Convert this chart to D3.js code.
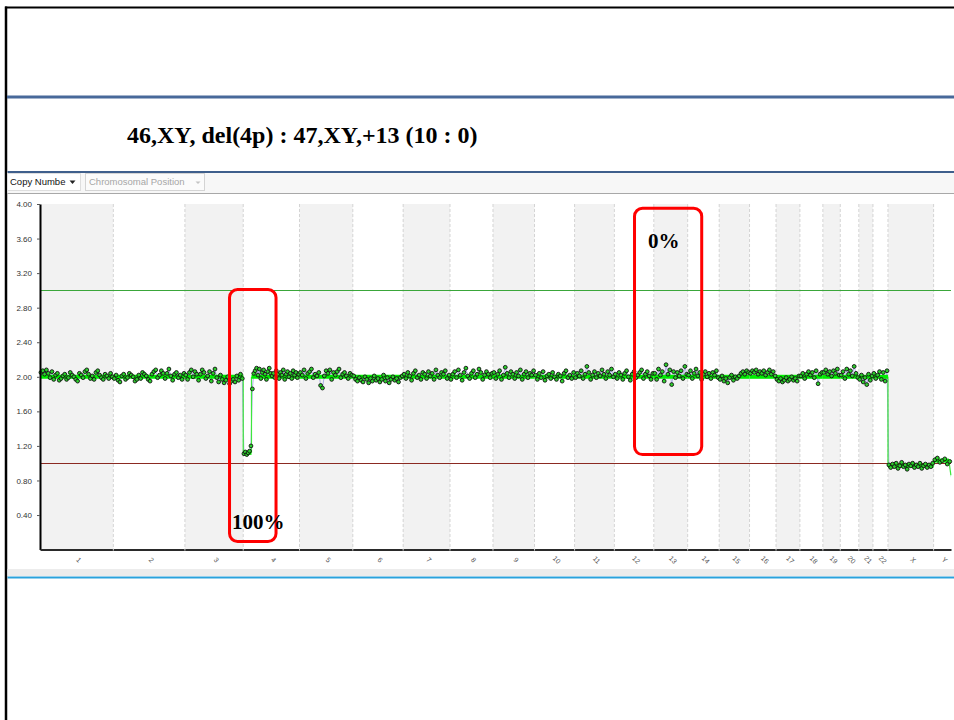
<!DOCTYPE html>
<html>
<head>
<meta charset="utf-8">
<script src="https://cdn.jsdelivr.net/npm/d3@7"></script>
<style>
  html, body { margin: 0; padding: 0; background: #ffffff; }
  svg { display: block; }
</style>
</head>
<body>
<svg id="chart" width="954" height="720"></svg>
<script>
// ---- data ---------------------------------------------------------------
const chromNames = ['1','2','3','4','5','6','7','8','9','10','11','12','13','14',
  '15','16','17','18','19','20','21','22','X','Y'];
const chromLengthsMb = [249,243,198,191,181,171,159,146,141,136,135,134,115,107,
  103,90,81,78,59,63,48,51,155,59];
const yTickValues = [0.4,0.8,1.2,1.6,2.0,2.4,2.8,3.2,3.6,4.0];

// probe copy-number values, evenly spread along each chromosome
const probeValues = [
  [2.05,2.07,2.03,2.08,2.04,1.99,2.06,1.97,2.02,2.04,1.96,1.98,2.01,2.03,1.97,1.99,2.05,2.02,2.00,1.97,1.95,2.04,2.02,1.99,2.06,2.08,2.03,1.98,2.01,1.97,2.05,2.07,2.02,1.99,1.97,2.03,2.01,1.98,2.04,2.00],
  [1.98,2.02,1.96,1.94,2.01,2.03,1.97,1.99,2.04,2.02,2.00,1.95,1.97,2.02,1.98,2.05,2.03,2.01,1.97,1.95,2.03,2.06,2.08,1.99,2.02,2.07,2.04,1.98,2.04,2.09,2.01,1.96,2.03,2.05,1.99,2.02,1.97,2.04],
  [2.02,1.97,2.05,2.08,2.00,2.06,2.03,1.96,2.03,2.08,2.05,1.98,2.01,2.06,1.95,2.04,2.09,1.99,1.94,2.02,1.97,1.93,1.96,2.00,1.92,1.95,1.97,1.94,2.01,1.96,2.03,1.98],
  [1.11,1.13,1.10,1.12,1.14,1.20,1.86,2.04,2.07,2.10,2.02,2.09,1.98,2.05,2.08,2.03,1.97,2.06,2.10,2.04,2.01,2.04,1.99,2.07,2.03,1.98,2.05,2.02,2.08,1.97,2.03,2.06,2.00,2.04,1.98,2.07,2.02,2.05,1.99,2.03],
  [2.05,2.02,2.08,1.98,2.04,2.06,2.09,1.99,2.03,2.01,2.05,1.90,1.87,2.01,2.07,2.04,2.08,1.97,2.05,2.02,2.06,2.09,1.99,2.03,2.05,2.01,1.98,2.04,2.02],
  [2.01,1.97,1.95,1.99,1.96,1.94,2.00,1.97,1.93,1.98,1.95,2.01,1.96,1.98,1.94,1.97,2.02,1.95,1.99,1.93,1.97,2.00,1.96,1.98,1.94,1.99,2.01],
  [2.03,1.98,2.05,2.01,1.96,2.04,2.07,1.99,2.02,1.97,2.05,2.03,1.98,2.06,2.01,2.04,1.97,2.08,2.02,1.99,2.05,2.03,2.07,1.98,2.02],
  [1.97,2.03,2.06,1.99,2.08,2.02,1.96,2.05,2.10,2.01,1.98,2.04,2.07,1.99,2.03,2.09,2.05,1.97,2.02,2.06,2.03,1.99,2.04],
  [2.05,1.98,2.03,2.07,1.97,2.02,2.11,2.04,1.99,2.06,2.03,1.98,2.05,2.01,2.08,1.97,2.03,2.06,1.99,2.04,2.02,2.07],
  [2.02,1.97,2.04,1.99,2.06,1.96,2.01,2.03,1.98,2.05,2.00,1.97,2.03,2.01,1.95,2.04,2.07,1.99,2.02,1.98,2.05],
  [1.99,2.04,2.01,2.07,1.98,2.03,2.12,2.05,1.97,2.02,2.06,1.99,2.04,2.01,2.08,2.03,1.98,2.06,2.02,2.09,2.00],
  [2.03,1.98,2.05,2.02,1.97,2.04,2.07,2.00,1.96,2.03,2.06,1.99,2.02,2.05,2.08,1.98,2.03,2.06,2.01,1.97,2.04],
  [2.04,1.97,2.09,2.02,2.06,1.95,2.14,2.03,2.08,1.91,2.06,1.99,2.05,2.01,2.07,1.98,2.12,2.03],
  [2.02,2.07,1.98,2.04,2.09,2.01,2.05,1.97,2.03,2.06,2.00,2.04,1.98,2.05,2.02,2.07,1.99],
  [1.97,2.01,1.95,1.98,1.93,1.99,2.02,1.96,2.00,1.98,2.01,2.04,2.06,2.03,2.07,2.05],
  [2.04,2.07,2.05,2.08,2.03,2.06,2.04,2.07,2.02,2.05,2.08,2.03,2.06,2.01],
  [1.97,1.95,1.98,1.94,1.96,1.99,1.95,1.97,2.00,1.96,1.98,1.95,2.01],
  [2.01,2.04,1.98,2.03,2.06,2.02,2.05,1.99,2.07,1.92,2.03,2.05],
  [2.05,2.08,2.03,2.06,2.01,2.07,2.04,2.09,2.02],
  [2.02,2.06,1.98,2.09,2.03,2.07,2.01,2.12,2.04,1.99],
  [1.97,2.02,1.94,1.99,1.91,2.03,1.96,2.01],
  [2.04,1.98,2.02,2.06,1.97,2.05,1.95,2.07],
  [0.98,0.95,0.99,0.96,1.00,0.94,0.97,1.01,0.96,0.98,0.93,0.99,0.97,1.00,0.95,0.98,0.96,1.00,0.94,0.97,0.99,0.95,0.98,0.96,1.00],
  [1.04,1.06,1.01,1.03,1.05,0.99,1.02]
];

// copy-number segments
const segChrom = ['1','2','3','4','4','5','6','7','8','9','10','11','12','13','14',
  '15','16','17','18','19','20','21','22','X','Y','Y'];
const segStartMb = [0,0,0,0,28,0,0,0,0,0,0,0,0,0,0,0,0,0,0,0,0,0,0,0,0,58.6];
const segEndMb = [249,243,198,28,191,181,171,159,146,141,136,135,134,115,107,
  103,90,81,78,59,63,48,51,155,52,59];
const segCopyNumber = [2,2,2,1.12,2,2,2,2,2,2,2,2,2,2,2,2,2,2,2,2,2,2,2,0.97,1.03,0.86];

// reference copy-number levels
const refLevels = [3.0, 1.0];
const refColors = ['#3aa63a', '#8b2a22'];

// highlighted regions with their mosaic percentage
const boxChrom = ['4', '13'];
const boxLabels = ['100%', '0%'];

// ---- layout -------------------------------------------------------------
const svg = d3.select('#chart');
const plotLeft = 40, plotRight = 951, plotTop = 204, plotBottom = 549.6;

const chromOffset = [];
chromLengthsMb.reduce((acc, len, i) => { chromOffset[i] = acc; return acc + len; }, 0);
const genomeLen = d3.sum(chromLengthsMb);
const chromIndex = name => chromNames.indexOf(name);

const x = d3.scaleLinear().domain([0, genomeLen]).range([plotLeft, plotRight]);
const y = d3.scaleLinear().domain([0, 4]).range([plotBottom, plotTop]);

// ---- slide frame --------------------------------------------------------
svg.append('line').attr('x1', 5).attr('x2', 954).attr('y1', 7.5).attr('y2', 7.5)
  .attr('stroke', '#000').attr('stroke-width', 2);
svg.append('line').attr('x1', 6).attr('x2', 6).attr('y1', 6.5).attr('y2', 720)
  .attr('stroke', '#000').attr('stroke-width', 2.5);
svg.append('line').attr('x1', 7).attr('x2', 954).attr('y1', 97).attr('y2', 97)
  .attr('stroke', '#48699a').attr('stroke-width', 3);

svg.append('text')
  .attr('x', 127).attr('y', 143)
  .attr('font-family', '"Liberation Serif", "Times New Roman", serif')
  .attr('font-weight', 'bold').attr('font-size', 24).attr('fill', '#000')
  .text('46,XY, del(4p) : 47,XY,+13 (10 : 0)');

// ---- viewer panel -------------------------------------------------------
svg.append('rect').attr('x', 7.5).attr('y', 172).attr('width', 946.5).attr('height', 21)
  .attr('fill', '#f7f7f7');
svg.append('line').attr('x1', 7.5).attr('x2', 954).attr('y1', 172).attr('y2', 172)
  .attr('stroke', '#3f5f8c').attr('stroke-width', 2);
svg.append('line').attr('x1', 7.5).attr('x2', 954).attr('y1', 193.5).attr('y2', 193.5)
  .attr('stroke', '#a8a8a8').attr('stroke-width', 1);

// dropdowns
svg.append('rect').attr('x', 7.5).attr('y', 173.5).attr('width', 73).attr('height', 17)
  .attr('fill', '#ffffff').attr('stroke', '#dedede');
svg.append('text').attr('x', 10).attr('y', 184.5)
  .attr('font-family', '"Liberation Sans", Arial, sans-serif').attr('font-size', 9.5)
  .attr('fill', '#111').text('Copy Numbe');
svg.append('path').attr('d', 'M69.5,180.5 L75.5,180.5 L72.5,184 Z').attr('fill', '#222');
svg.append('rect').attr('x', 85.5).attr('y', 173.5).attr('width', 119).attr('height', 17)
  .attr('fill', '#fbfbfb').attr('stroke', '#d4d4d4');
svg.append('text').attr('x', 89).attr('y', 184.5)
  .attr('font-family', '"Liberation Sans", Arial, sans-serif').attr('font-size', 9.5)
  .attr('fill', '#a6a6a6').text('Chromosomal Position');
svg.append('path').attr('d', 'M195.5,181.5 L200.5,181.5 L198,184 Z').attr('fill', '#c4c4c4');

// panel bottom edge
svg.append('rect').attr('x', 7.5).attr('y', 569).attr('width', 946.5).attr('height', 7)
  .attr('fill', '#ececec');
svg.append('line').attr('x1', 7.5).attr('x2', 954).attr('y1', 577.5).attr('y2', 577.5)
  .attr('stroke', '#2aa2dc').attr('stroke-width', 2);

// ---- chromosome bands ---------------------------------------------------
const bands = svg.append('g');
chromNames.forEach((name, i) => {
  if (i % 2 === 0 && name !== 'Y') {
    bands.append('rect')
      .attr('x', x(chromOffset[i])).attr('y', plotTop)
      .attr('width', x(chromOffset[i] + chromLengthsMb[i]) - x(chromOffset[i]))
      .attr('height', plotBottom - plotTop)
      .attr('fill', '#f2f2f2');
  }
});
chromNames.forEach((name, i) => {
  if (i === 0) return;
  bands.append('line')
    .attr('x1', x(chromOffset[i])).attr('x2', x(chromOffset[i]))
    .attr('y1', plotTop).attr('y2', plotBottom)
    .attr('stroke', '#d4d4d4').attr('stroke-width', 1)
    .attr('stroke-dasharray', '3,2');
});

// reference levels
refLevels.forEach((lv, i) => {
  svg.append('line')
    .attr('x1', plotLeft).attr('x2', plotRight)
    .attr('y1', Math.round(y(lv)) + 0.5).attr('y2', Math.round(y(lv)) + 0.5)
    .attr('stroke', refColors[i]).attr('stroke-width', 1);
});

// ---- probes -------------------------------------------------------------
const probes = [];
probeValues.forEach((vals, ci) => {
  const len = chromLengthsMb[ci];
  vals.forEach((v, k) => {
    probes.push({ chrom: ci, pos: chromOffset[ci] + (k + 0.5) * len / vals.length, cn: v });
  });
});

// thin trace joining consecutive probes
svg.append('path')
  .datum(probes)
  .attr('fill', 'none')
  .attr('stroke', '#9b9be3')
  .attr('stroke-width', 0.8)
  .attr('d', d3.line().x(d => x(d.pos)).y(d => y(d.cn)));

// segment line: thin connectors plus thick levels
const segs = segChrom.map((c, i) => {
  const off = chromOffset[chromIndex(c)];
  return { x0: off + segStartMb[i], x1: off + segEndMb[i], cn: segCopyNumber[i] };
});
const connectors = [];
for (let i = 1; i < segs.length; i++) {
  connectors.push([[segs[i - 1].x1, segs[i - 1].cn], [segs[i].x0, segs[i].cn]]);
}
svg.append('g').selectAll('path').data(connectors).join('path')
  .attr('fill', 'none').attr('stroke', '#3ee63e').attr('stroke-width', 1.2)
  .attr('d', d3.line().x(d => x(d[0])).y(d => y(d[1])));
svg.append('g').selectAll('line').data(segs).join('line')
  .attr('x1', d => x(d.x0)).attr('x2', d => x(d.x1))
  .attr('y1', d => y(d.cn)).attr('y2', d => y(d.cn))
  .attr('stroke', '#00ee00').attr('stroke-width', 4);

svg.append('g').selectAll('circle').data(probes).join('circle')
  .attr('cx', d => x(d.pos)).attr('cy', d => y(d.cn)).attr('r', 1.9)
  .attr('fill', '#2ccf2c').attr('stroke', '#111').attr('stroke-width', 0.9);

// ---- axes ---------------------------------------------------------------
const yAxis = svg.append('g')
  .attr('transform', `translate(${plotLeft},0)`)
  .call(d3.axisLeft(y).tickValues(yTickValues).tickFormat(d3.format('.2f')).tickSize(3).tickSizeOuter(0));
yAxis.select('.domain').attr('stroke', '#000').attr('stroke-width', 2);
yAxis.selectAll('.tick line').attr('stroke', '#555');
yAxis.selectAll('.tick text')
  .attr('font-family', '"Liberation Sans", Arial, sans-serif')
  .attr('font-size', 8).attr('fill', '#333').attr('x', -8);

const xCenters = chromNames.map((n, i) => chromOffset[i] + chromLengthsMb[i] / 2);
const xAxis = svg.append('g')
  .attr('transform', `translate(0,${plotBottom})`)
  .call(d3.axisBottom(x).tickValues(xCenters)
    .tickFormat((d, i) => chromNames[i]).tickSize(0).tickSizeOuter(0));
xAxis.select('.domain').attr('stroke', '#2a2a2a').attr('stroke-width', 2);
xAxis.selectAll('.tick text')
  .attr('font-family', '"Liberation Sans", Arial, sans-serif')
  .attr('font-size', 7).attr('fill', '#555')
  .attr('y', 0).attr('dy', 0)
  .attr('text-anchor', 'middle')
  .attr('transform', 'translate(0,12) rotate(45)');
// light notches where chromosomes meet on the baseline
chromNames.forEach((n, i) => {
  if (i === 0) return;
  svg.append('line')
    .attr('x1', x(chromOffset[i])).attr('x2', x(chromOffset[i]))
    .attr('y1', plotBottom - 1).attr('y2', plotBottom + 1)
    .attr('stroke', '#cfcfcf').attr('stroke-width', 1);
});

// ---- highlight boxes ----------------------------------------------------
const boxPad = [[-13.7, 32.8, 3.01, 0.094], [-19.3, 47.9, 3.95, 1.10]];
boxChrom.forEach((c, i) => {
  const ci = chromIndex(c);
  const x0 = x(chromOffset[ci]) + boxPad[i][0];
  const x1 = x(chromOffset[ci]) + boxPad[i][1];
  const y0 = y(boxPad[i][2]), y1 = y(boxPad[i][3]);
  svg.append('rect')
    .attr('x', x0).attr('y', y0).attr('width', x1 - x0).attr('height', y1 - y0)
    .attr('rx', 8).attr('ry', 8)
    .attr('fill', 'none').attr('stroke', '#ff0000').attr('stroke-width', 3);
});
svg.append('text').attr('x', 232).attr('y', 529)
  .attr('font-family', '"Liberation Serif", "Times New Roman", serif')
  .attr('font-weight', 'bold').attr('font-size', 21).attr('fill', '#000')
  .text(boxLabels[0]);
svg.append('text').attr('x', 648).attr('y', 248)
  .attr('font-family', '"Liberation Serif", "Times New Roman", serif')
  .attr('font-weight', 'bold').attr('font-size', 21).attr('fill', '#000')
  .text(boxLabels[1]);
</script>
</body>
</html>
